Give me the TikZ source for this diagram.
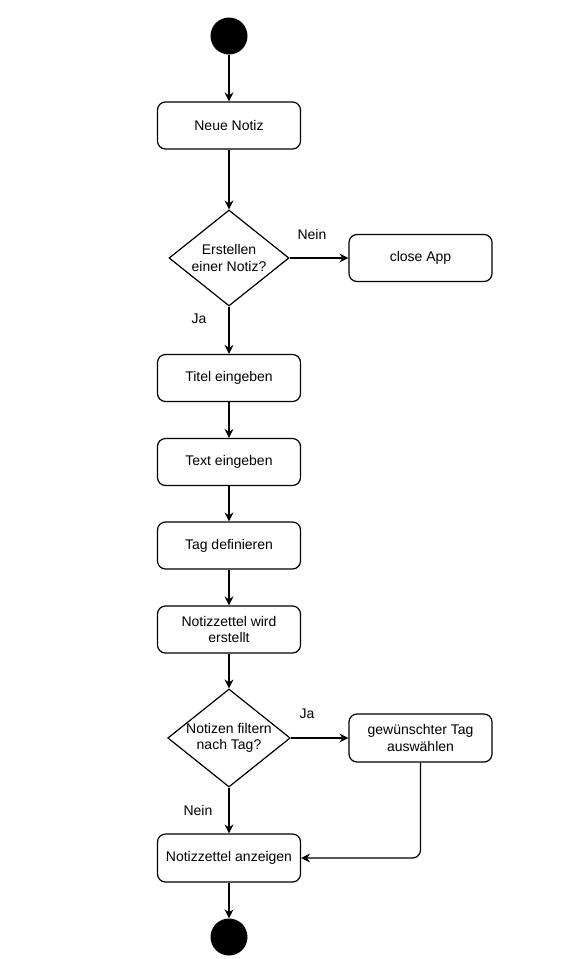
\documentclass[tikz,border=0pt]{standalone}
\usepackage{fontspec}
\setmainfont{Liberation Sans}
\usetikzlibrary{shapes.geometric,arrows.meta}
\begin{document}
\begin{tikzpicture}[x=1pt,y=-1pt,
  font=\fontsize{14}{16.5}\selectfont,
  stepbox/.style={draw,line width=1.2pt,rounded corners=8pt,minimum width=143pt,minimum height=47pt,align=center,inner sep=1pt},
  decision/.style={draw,line width=1.2pt,diamond,aspect=1.25,minimum width=120pt,minimum height=96pt,align=center,inner sep=0pt},
  dot/.style={circle,fill=black,minimum size=37pt,inner sep=0pt},
  flow/.style={draw,line width=1.2pt,-{Stealth[length=9pt,width=9pt,inset=3pt]}},
  lbl/.style={inner sep=0pt}]
\useasboundingbox (0,0) rectangle (564,959);
\node[dot] (start) at (229,36) {};
\node[stepbox] (neu) at (229,125.5) {Neue Notiz};
\node[decision] (d1) at (229,258) {Erstellen\\einer Notiz?};
\node[stepbox] (close) at (420.5,258) {close App};
\node[stepbox] (titel) at (229,378) {Titel eingeben};
\node[stepbox] (text) at (229,462) {Text eingeben};
\node[stepbox] (tag) at (229,545.5) {Tag definieren};
\node[stepbox] (erst) at (229,629.5) {Notizzettel wird\\erstellt};
\node[decision] (d2) at (229,738) {Notizen filtern\\nach Tag?};
\node[stepbox,minimum height=48pt] (wahl) at (420.5,738) {gewünschter Tag\\auswählen};
\node[stepbox,minimum height=48pt] (anz) at (229,858) {Notizzettel anzeigen};
\node[dot] (end) at (229,937) {};
\draw[flow] (start) -- (neu);
\draw[flow] (neu) -- (d1);
\draw[flow] (d1) -- (close);
\draw[flow] (d1) -- (titel);
\draw[flow] (titel) -- (text);
\draw[flow] (text) -- (tag);
\draw[flow] (tag) -- (erst);
\draw[flow] (erst) -- (d2);
\draw[flow] (d2) -- (wahl);
\draw[flow] (d2) -- (anz);
\draw[flow,rounded corners=8pt] (wahl.south) |- (anz.east);
\draw[flow] (anz) -- (end);
\node[lbl] (l1) at (312,234) {Nein};
\node[lbl] (l2) at (199,319) {Ja};
\node[lbl] (l3) at (307,714) {Ja};
\node[lbl] (l4) at (198,810) {Nein};
\end{tikzpicture}
\end{document}
